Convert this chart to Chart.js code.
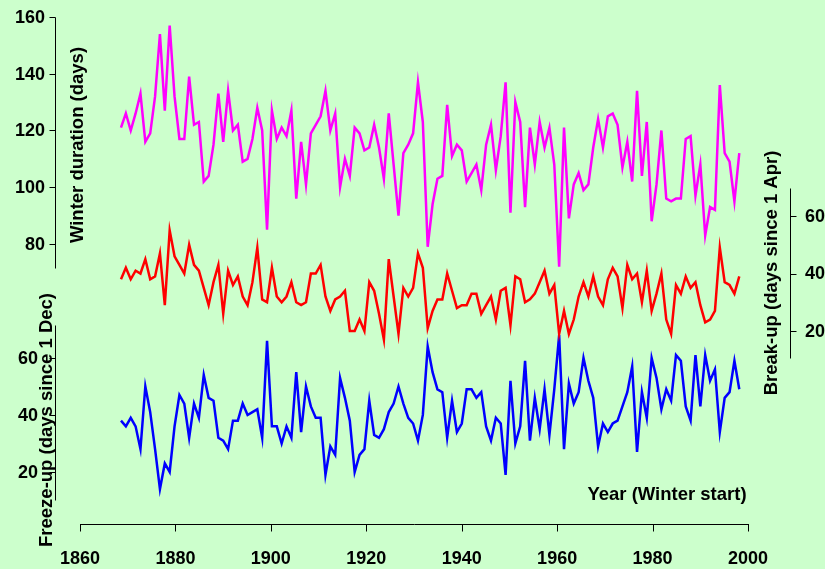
<!DOCTYPE html>
<html>
<head>
<meta charset="utf-8">
<script src="https://cdn.jsdelivr.net/npm/chart.js@4/dist/chart.umd.min.js"></script>
<style>
  html, body { margin: 0; padding: 0; background: #ccffcc; }
  #wrap { width: 825px; height: 569px; }
</style>
</head>
<body>
<div id="wrap"><canvas id="c" width="825" height="569"></canvas></div>
<script>
// Winter (start year) of each record
const years = [
  1869,1870,1871,1872,1873,1874,1875,1876,1877,1878,1879,1880,1881,1882,1883,1884,
  1885,1886,1887,1888,1889,1890,1891,1892,1893,1894,1895,1896,1897,1898,1899,1900,
  1901,1902,1903,1904,1905,1906,1907,1908,1909,1910,1911,1912,1913,1914,1915,1916,
  1917,1918,1919,1920,1921,1922,1923,1924,1925,1926,1927,1928,1929,1930,1931,1932,
  1933,1934,1935,1936,1937,1938,1939,1940,1941,1942,1943,1944,1945,1946,1947,1948,
  1949,1950,1951,1952,1953,1954,1955,1956,1957,1958,1959,1960,1961,1962,1963,1964,
  1965,1966,1967,1968,1969,1970,1971,1972,1973,1974,1975,1976,1977,1978,1979,1980,
  1981,1982,1983,1984,1985,1986,1987,1988,1989,1990,1991,1992,1993,1994,1995,1996
];

// Ice cover duration (days)
const winterDuration = [
  121,126,120,126,133,116,119,132,154,127,157,132,117,117,139,122,
  123,102,104,115,133,116,134,120,122,109,110,117,128,120,85,127,
  117,121,118,127,96,116,101,119,122,125,134,120,126,100,110,104,
  121,119,113,114,122,114,103,126,108,90,112,115,119,137,123,79,
  94,103,104,129,111,115,113,102,105,108,99,115,122,106,118,137,
  91,130,123,93,121,108,123,114,121,108,72,121,89,101,105,99,
  101,114,124,114,125,126,122,107,116,102,134,104,123,88,101,120,
  96,95,96,96,117,118,97,108,83,93,92,136,112,109,95,112
];

// Break-up date (days since 1 April)
const breakUp = [
  38,42,38,41,40,45,38,39,47,29,55,46,43,40,50,43,
  41,35,29,37,43,26,41,36,39,32,29,37,49,31,30,42,
  32,30,32,37,30,29,30,40,40,43,32,27,31,32,34,20,
  20,24,20,37,34,26,17,45,32,19,35,32,35,47,42,21,
  27,31,31,40,34,28,29,29,33,33,26,29,32,24,34,35,
  22,39,38,30,31,33,37,41,33,36,19,27,19,24,32,37,
  32,39,32,29,38,42,39,28,43,38,40,30,41,27,33,40,
  24,19,36,33,39,35,37,29,23,24,27,49,37,36,33,39
];

// Freeze-up date (days since 1 December)
const freezeUp = [
  38,36,39,36,28,50,41,28,14,23,20,36,47,44,32,44,
  39,54,46,45,32,31,28,38,38,44,40,41,42,32,66,36,
  36,30,36,32,55,34,50,43,39,39,19,29,26,53,46,38,
  20,26,28,45,33,32,35,41,44,50,44,39,37,31,40,64,
  55,49,48,32,45,34,37,49,49,46,48,36,31,39,37,19,
  52,30,36,59,31,46,35,49,33,49,68,28,51,44,48,60,
  52,46,29,37,34,37,38,43,48,57,27,48,39,60,53,42,
  49,45,61,59,43,38,61,43,61,52,56,34,46,48,59,49
];

// Tick labels for each axis
const yearTicks = [1860,1880,1900,1920,1940,1960,1980,2000];
const durationTicks = [80,100,120,140,160];
const breakUpTicks = [20,40,60];
const freezeUpTicks = [20,40,60];

const pts = (vals) => vals.map((v, i) => ({ x: years[i], y: v }));

const FONT = '"Liberation Sans", Arial, Helvetica, sans-serif';

// Axis segments, each positioned through its own Chart.js scale
const axesPlugin = {
  id: 'segmentAxes',
  afterDatasetsDraw(chart) {
    const { ctx, scales } = chart;
    const xs = scales.xAxis;
    ctx.save();
    ctx.strokeStyle = '#000';
    ctx.fillStyle = '#000';
    ctx.lineWidth = 1;
    ctx.font = 'bold 18px ' + FONT;

    const vAxis = (scale, x, from, to, ticks, side, labelGap) => {
      const yTop = Math.round(scale.getPixelForValue(to)) + 0.5;
      const yBot = Math.round(scale.getPixelForValue(from)) + 0.5;
      ctx.beginPath();
      ctx.moveTo(x + 0.5, yTop);
      ctx.lineTo(x + 0.5, yBot);
      ticks.forEach(t => {
        const y = Math.round(scale.getPixelForValue(t)) + 0.5;
        ctx.moveTo(x + 0.5, y);
        ctx.lineTo(x + 0.5 + (side === 'left' ? -6 : 6), y);
      });
      ctx.stroke();
      ctx.textBaseline = 'middle';
      ctx.textAlign = side === 'left' ? 'right' : 'left';
      ticks.forEach(t => {
        const y = scale.getPixelForValue(t) + 1;
        ctx.fillText(String(t), x + (side === 'left' ? -labelGap : labelGap), y);
      });
    };

    vAxis(scales.yDur, 55, 71.5, 160, durationTicks, 'left', 10);
    vAxis(scales.yFrz, 55, 10, 71.5, freezeUpTicks, 'left', 17);
    vAxis(scales.yBrk, 790, 10.5, 69.7, breakUpTicks, 'right', 15);

    // bottom year axis
    const yAx = chart.chartArea.bottom + 0.5;
    ctx.beginPath();
    ctx.moveTo(Math.round(xs.getPixelForValue(yearTicks[0])), yAx);
    ctx.lineTo(Math.round(xs.getPixelForValue(yearTicks[yearTicks.length - 1])) + 1, yAx);
    yearTicks.forEach(t => {
      const x = Math.round(xs.getPixelForValue(t)) + 0.5;
      ctx.moveTo(x, yAx);
      ctx.lineTo(x, yAx + 7);
    });
    ctx.stroke();
    ctx.textAlign = 'center';
    ctx.textBaseline = 'middle';
    yearTicks.forEach(t => ctx.fillText(String(t), xs.getPixelForValue(t), 559));

    // axis titles
    ctx.font = 'bold 18.5px ' + FONT;
    const vTitle = (text, x, y) => {
      ctx.save();
      ctx.translate(x, y);
      ctx.rotate(-Math.PI / 2);
      ctx.textAlign = 'center';
      ctx.textBaseline = 'middle';
      ctx.fillText(text, 0, 0);
      ctx.restore();
    };
    vTitle('Winter duration (days)', 78, 145);
    vTitle('Freeze-up (days since 1 Dec)', 47, 420);
    vTitle('Break-up (days since 1 Apr)', 772, 273);
    ctx.textAlign = 'center';
    ctx.textBaseline = 'middle';
    ctx.fillText('Year (Winter start)', 667, 495);
    ctx.restore();
  }
};

const line = (label, data, color, axis) => ({
  label, data: pts(data), xAxisID: 'x', yAxisID: axis,
  borderColor: color, backgroundColor: color,
  borderWidth: 2.5, pointRadius: 0, tension: 0, fill: false
});

new Chart(document.getElementById('c'), {
  type: 'line',
  data: {
    datasets: [
      line('Winter duration (days)', winterDuration, '#ff00ff', 'yDur'),
      line('Break-up (days since 1 Apr)', breakUp, '#ff0000', 'yBrk'),
      line('Freeze-up (days since 1 Dec)', freezeUp, '#0000ff', 'yFrz')
    ]
  },
  options: {
    responsive: false,
    devicePixelRatio: 1,
    animation: false,
    layout: { padding: { left: 80, right: 77, top: 17, bottom: 45 } },
    plugins: { legend: { display: false }, tooltip: { enabled: false } },
    scales: {
      // data placement along the year axis
      x: { type: 'linear', min: 1860.58, max: 1997.79, display: false },
      // labelled year axis drawn along the bottom
      xAxis: { type: 'linear', min: 1860, max: 2000, display: false },
      yDur: { type: 'linear', position: 'left', min: -18.7, max: 160, display: false },
      yBrk: { type: 'linear', position: 'right', min: -47.1, max: 129.2, display: false },
      yFrz: { type: 'linear', position: 'left', min: 1.75, max: 179.6, display: false }
    }
  },
  plugins: [axesPlugin]
});
</script>
</body>
</html>
